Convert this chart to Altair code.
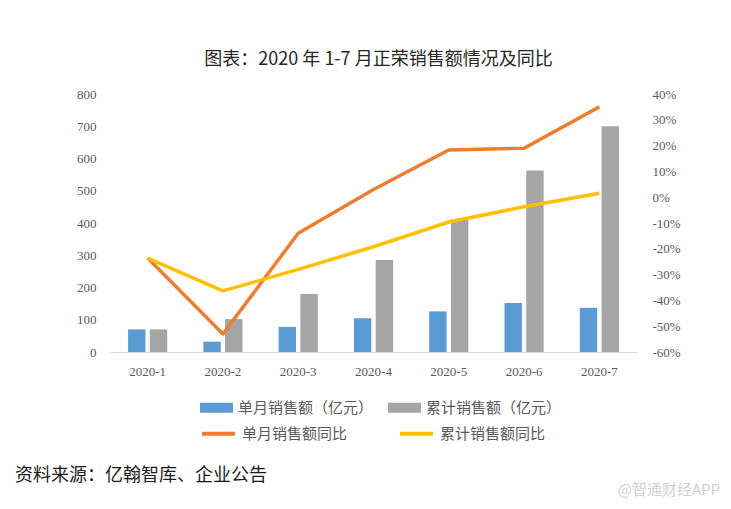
import altair as alt
import pandas as pd

months = ["2020-1", "2020-2", "2020-3", "2020-4", "2020-5", "2020-6", "2020-7"]
monthly_sales = [70, 32, 78, 105, 126, 152, 137]
cumulative_sales = [70, 102, 180, 285, 411, 563, 700]
monthly_yoy = [-0.236, -0.53, -0.14, 0.03, 0.183, 0.19, 0.35]
cumulative_yoy = [-0.236, -0.363, -0.28, -0.192, -0.096, -0.037, 0.015]

bar_names = ["单月销售额（亿元）", "累计销售额（亿元）"]
line_names = ["单月销售额同比", "累计销售额同比"]
bar_colors = ["#5B9BD5", "#A5A5A5"]
line_colors = ["#ED7D31", "#FFC000"]

title_text = "图表：2020 年 1-7 月正荣销售额情况及同比"
source_text = "资料来源：亿翰智库、企业公告"
watermark_text = "@智通财经APP"

left_ticks = [0, 100, 200, 300, 400, 500, 600, 700, 800]
right_ticks = [-0.6, -0.5, -0.4, -0.3, -0.2, -0.1, 0.0, 0.1, 0.2, 0.3, 0.4]

bars_df = pd.DataFrame(
    [{"month": m, "series": bar_names[0], "value": v} for m, v in zip(months, monthly_sales)]
    + [{"month": m, "series": bar_names[1], "value": v} for m, v in zip(months, cumulative_sales)]
)
lines_df = pd.DataFrame(
    [{"month": m, "series": line_names[0], "value": v} for m, v in zip(months, monthly_yoy)]
    + [{"month": m, "series": line_names[1], "value": v} for m, v in zip(months, cumulative_yoy)]
)

CJK = "Noto Sans CJK SC"
NUM = "Liberation Serif"
LABEL_COLOR = "#595959"

x_axis = alt.Axis(
    title=None,
    labelAngle=0,
    ticks=False,
    grid=False,
    domain=True,
    domainColor="#D9D9D9",
    domainWidth=1,
    labelFont=NUM,
    labelFontSize=13,
    labelColor=LABEL_COLOR,
    labelPadding=13,
)

bars = alt.Chart(bars_df).mark_bar().encode(
    x=alt.X("month:N", sort=months,
            scale=alt.Scale(paddingInner=0.48, paddingOuter=0.24), axis=x_axis),
    xOffset=alt.XOffset("series:N", sort=bar_names, scale=alt.Scale(paddingInner=0.2)),
    y=alt.Y(
        "value:Q",
        scale=alt.Scale(domain=[0, 800], nice=False),
        axis=alt.Axis(
            title=None,
            values=left_ticks,
            domain=False,
            domainColor="transparent",
            domainWidth=0,
            ticks=False,
            grid=False,
            labelFont=NUM,
            labelFontSize=13,
            labelColor=LABEL_COLOR,
            labelPadding=14,
            orient="left",
        ),
    ),
    fill=alt.Fill(
        "series:N",
        sort=bar_names,
        scale=alt.Scale(domain=bar_names, range=bar_colors),
        legend=alt.Legend(
            title=None,
            orient="none",
            legendX=90,
            legendY=297,
            direction="horizontal",
            columns=2,
            columnPadding=14,
            padding=0,
            symbolType="M-1,-0.3H1V0.3H-1Z",
            symbolSize=1089,
            symbolStrokeWidth=0,
            labelFont=CJK,
            labelFontSize=15,
            labelColor=LABEL_COLOR,
            labelOffset=5,
        ),
    ),
)

lines = alt.Chart(lines_df).mark_line(strokeWidth=3.5, strokeJoin="round").encode(
    x=alt.X("month:N", sort=months, axis=x_axis),
    y=alt.Y(
        "value:Q",
        scale=alt.Scale(domain=[-0.6, 0.4], nice=False),
        axis=alt.Axis(
            title=None,
            values=right_ticks,
            labelExpr="round(datum.value*100) + '%'",
            domain=False,
            domainColor="transparent",
            domainWidth=0,
            ticks=False,
            grid=False,
            labelFont=NUM,
            labelFontSize=13,
            labelColor=LABEL_COLOR,
            labelPadding=15,
            orient="right",
        ),
    ),
    stroke=alt.Stroke(
        "series:N",
        sort=line_names,
        scale=alt.Scale(domain=line_names, range=line_colors),
        legend=alt.Legend(
            title=None,
            orient="none",
            legendX=90,
            legendY=321,
            direction="horizontal",
            columns=2,
            columnPadding=44,
            padding=0,
            symbolType="stroke",
            symbolSize=1089,
            symbolStrokeWidth=4,
            labelFont=CJK,
            labelFontSize=15,
            labelColor=LABEL_COLOR,
            labelOffset=5,
        ),
    ),
)

source = alt.Chart(alt.Data(values=[{"t": source_text}])).mark_text(
    align="left", baseline="middle", font=CJK, fontSize=18, color="#1a1a1a"
).encode(text="t:N", x=alt.value(-95), y=alt.value(382))

watermark = alt.Chart(alt.Data(values=[{"t": watermark_text}])).mark_text(
    align="right", baseline="middle", font=CJK, fontSize=15, color="#d0d0d0"
).encode(text="t:N", x=alt.value(610), y=alt.value(396))

chart = (
    alt.layer(bars, lines, source, watermark)
    .resolve_scale(y="independent", fill="independent", stroke="independent")
    .properties(
        width=527,
        height=258,
        background="white",
        autosize=alt.AutoSizeParams(type="none"),
        padding={"left": 102, "top": 86, "right": 86, "bottom": 149},
        title=alt.TitleParams(
            text=title_text,
            font=CJK,
            fontSize=18,
            fontWeight="normal",
            color="#262626",
            anchor="middle",
            offset=19,
            dx=5,
        ),
    )
    .configure_view(strokeWidth=0, stroke="transparent")
    .configure_axisY(domain=False, domainColor="transparent", ticks=False, grid=False)
)

chart.save("out.html", embed_options={"renderer": "svg", "actions": False})
